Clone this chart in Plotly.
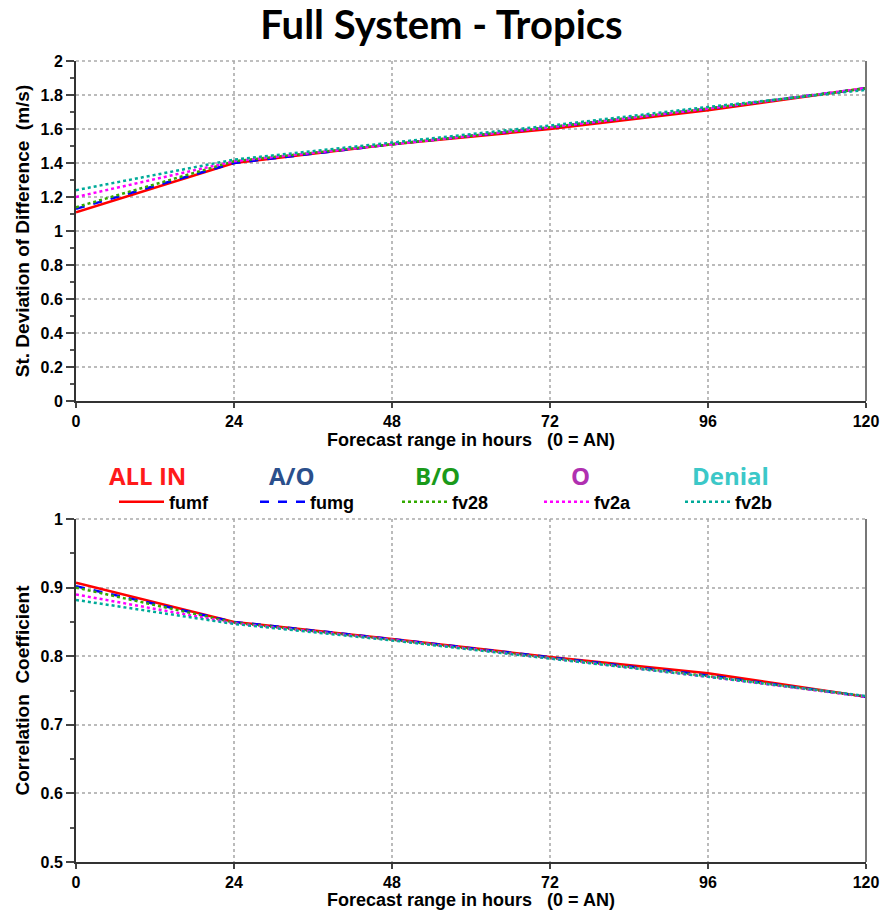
import plotly.graph_objects as go

hours = [0, 24, 48, 72, 96, 120]
series_names = ["fumf", "fumg", "fv28", "fv2a", "fv2b"]
group_labels = ["ALL IN", "A/O", "B/O", "O", "Denial"]
label_colors = ["#ff1a1a", "#2b4f8c", "#1a9a1a", "#b030b0", "#3cc8c8"]
line_colors = ["#ff0000", "#0000ff", "#33aa00", "#ff00ff", "#00aa99"]
line_dashes = ["solid", "dash", "dot", "dot", "dot"]

std_fumf = [1.11, 1.40, 1.51, 1.60, 1.71, 1.84]
std_fumg = [1.13, 1.40, 1.51, 1.61, 1.72, 1.84]
std_fv28 = [1.14, 1.41, 1.51, 1.61, 1.72, 1.84]
std_fv2a = [1.20, 1.41, 1.51, 1.61, 1.72, 1.84]
std_fv2b = [1.24, 1.42, 1.52, 1.62, 1.73, 1.83]

cor_fumf = [0.907, 0.850, 0.825, 0.799, 0.775, 0.741]
cor_fumg = [0.902, 0.850, 0.825, 0.798, 0.772, 0.741]
cor_fv28 = [0.900, 0.849, 0.824, 0.797, 0.771, 0.741]
cor_fv2a = [0.890, 0.848, 0.824, 0.797, 0.770, 0.741]
cor_fv2b = [0.882, 0.847, 0.823, 0.797, 0.770, 0.742]

std_vals = [std_fumf, std_fumg, std_fv28, std_fv2a, std_fv2b]
cor_vals = [cor_fumf, cor_fumg, cor_fv28, cor_fv2a, cor_fv2b]

std_ticks = [0, 0.2, 0.4, 0.6, 0.8, 1, 1.2, 1.4, 1.6, 1.8, 2]
std_ticklabels = ["0", "0.2", "0.4", "0.6", "0.8", "1", "1.2", "1.4", "1.6", "1.8", "2"]
cor_ticks = [0.5, 0.6, 0.7, 0.8, 0.9, 1]
cor_ticklabels = ["0.5", "0.6", "0.7", "0.8", "0.9", "1"]

# pixel layout helpers
L, R, T, B = 76, 17, 61, 48
W, H = 883, 910
PW, PH = W - L - R, H - T - B

def px(xpix):
    return (xpix - L) / PW

def py(ypix):
    return (H - B - ypix) / PH

legend_keys = ["legend", "legend2", "legend3", "legend4", "legend5"]
legend_line_start = [122, 263, 405, 547, 688]
label_centers = [147, 292, 437, 580, 730]

fig = go.Figure()
for i, name in enumerate(series_names):
    fig.add_trace(go.Scatter(x=hours, y=std_vals[i], mode="lines", name=name,
                             line=dict(color=line_colors[i], dash=line_dashes[i], width=2.5),
                             xaxis="x", yaxis="y", showlegend=False))
for i, name in enumerate(series_names):
    fig.add_trace(go.Scatter(x=hours, y=cor_vals[i], mode="lines", name=name,
                             line=dict(color=line_colors[i], dash=line_dashes[i], width=2.5),
                             xaxis="x2", yaxis="y2", showlegend=True, legend=legend_keys[i]))

tickfont = dict(family="Liberation Sans", size=16, color="black", weight="bold")
xtitlefont = dict(family="Liberation Sans", size=18, color="black", weight="bold")
ytitlefont = dict(family="Liberation Sans", size=19, color="black", weight="bold")
grid = dict(showgrid=True, gridcolor="#bbbbbb", griddash="dot", gridwidth=1.5)
xcommon = dict(range=[0, 120], tickvals=hours, ticks="outside", ticklen=5, tickwidth=1.5,
               showline=True, linecolor="#333333", linewidth=2, zeroline=False,
               tickfont=tickfont, **grid)
xtitle = "Forecast range in hours\u00a0\u00a0\u00a0(0 = AN)"

layout = dict(
    width=W, height=H,
    paper_bgcolor="white", plot_bgcolor="white",
    margin=dict(l=L, r=R, t=T, b=B, autoexpand=False),
    title=dict(text="Full System - Tropics", x=0.5, xanchor="center", y=(H - 25) / H, yanchor="middle",
               font=dict(family="Lato", size=40, color="black", weight="bold")),
    xaxis=dict(domain=[0, 1], anchor="y", **xcommon),
    yaxis=dict(domain=[py(401), 1], anchor="x", range=[0, 2], tickvals=std_ticks, ticktext=std_ticklabels,
               ticks="outside", ticklen=8, tickwidth=1.5, showline=True, linecolor="#333333", linewidth=2,
               zeroline=False, tickfont=tickfont,
               minor=dict(dtick=0.1, ticks="outside", ticklen=4, tickcolor="#555555", showgrid=False),
               title=dict(text="St. Deviation of Difference\u00a0\u00a0(m/s)", font=ytitlefont, standoff=6),
               **grid),
    xaxis2=dict(domain=[0, 1], anchor="y2", **xcommon),
    yaxis2=dict(domain=[0, py(519)], anchor="x2", range=[0.5, 1], tickvals=cor_ticks, ticktext=cor_ticklabels,
                ticks="outside", ticklen=8, tickwidth=1.5, showline=True, linecolor="#333333", linewidth=2,
                zeroline=False, tickfont=tickfont,
                minor=dict(dtick=0.05, ticks="outside", ticklen=4, tickcolor="#555555", showgrid=False),
                title=dict(text="Correlation\u00a0\u00a0Coefficient", font=ytitlefont, standoff=6),
                **grid),
    showlegend=True,
)
for key, xs in zip(legend_keys, legend_line_start):
    layout[key] = dict(orientation="h", x=px(xs - 8), xanchor="left", y=py(502), yanchor="middle",
                       itemwidth=45, bgcolor="rgba(0,0,0,0)", borderwidth=0,
                       font=dict(family="Liberation Sans", size=18, color="black", weight="bold"))
fig.update_layout(**layout)

# x-axis titles
for ypix in (440, 900):
    fig.add_annotation(text=xtitle, xref="paper", yref="paper", x=0.5, y=py(ypix),
                       xanchor="center", yanchor="middle", showarrow=False, font=xtitlefont)

# frame top and right borders
for top_pix, bot_pix in ((61, 401), (519, 862)):
    fig.add_shape(type="line", xref="paper", yref="paper", x0=0, x1=1, y0=py(top_pix), y1=py(top_pix),
                  line=dict(color="#aaaaaa", width=1.5, dash="dot"))
    fig.add_shape(type="line", xref="paper", yref="paper", x0=1, x1=1, y0=py(bot_pix), y1=py(top_pix),
                  line=dict(color="#777777", width=2))

for lx, lab, col in zip(label_centers, group_labels, label_colors):
    fig.add_annotation(text=lab, xref="paper", yref="paper",
                       x=px(lx), y=py(476), xanchor="center", yanchor="middle",
                       showarrow=False, font=dict(family="Open Sans", size=24, color=col, weight="bold"))

fig.write_html("out.html")
